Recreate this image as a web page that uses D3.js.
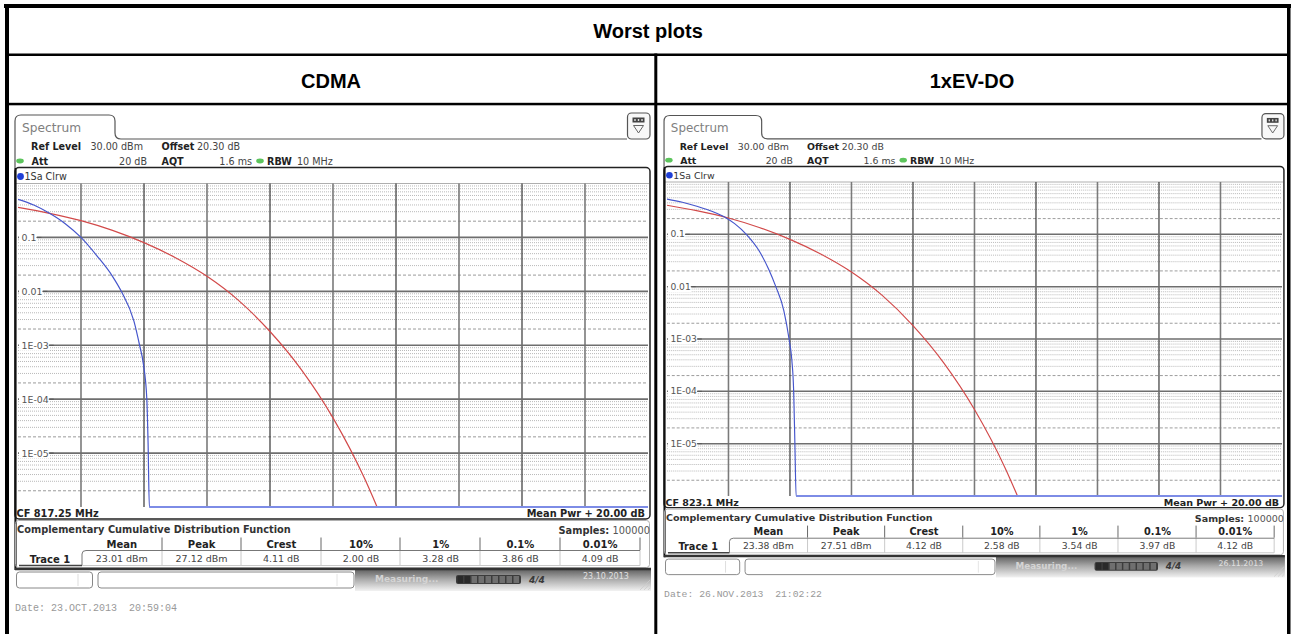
<!DOCTYPE html>
<html><head><meta charset="utf-8">
<script src="https://cdn.jsdelivr.net/npm/d3@7"></script>
<style>html,body{margin:0;padding:0;background:#fff;} svg{display:block;}</style>
</head><body>
<svg id="c" width="1293" height="634"></svg>
<script>
// ---------- data ----------
const mainTitle = "Worst plots";
const panelTitles = ["CDMA", "1xEV-DO"];
const centerFreqs = ["CF 817.25 MHz", "CF 823.1 MHz"];
const dateLines = ["Date: 23.OCT.2013  20:59:04", "Date: 26.NOV.2013  21:02:22"];
const statusDates = ["23.10.2013", "26.11.2013"];
const yTickValues = [0.1, 0.01, 1e-3, 1e-4, 1e-5];
const yTickLabels = ["0.1", "0.01", "1E-03", "1E-04", "1E-05"];
const xDomainDb = [0, 20];
const yDomainProb = [1e-6, 1];
const tableHeaders = ["Mean", "Peak", "Crest", "10%", "1%", "0.1%", "0.01%"];
const cdmaStats = ["23.01 dBm", "27.12 dBm", "4.11 dB", "2.00 dB", "3.28 dB", "3.86 dB", "4.09 dB"];
const evdoStats = ["23.38 dBm", "27.51 dBm", "4.12 dB", "2.58 dB", "3.54 dB", "3.97 dB", "4.12 dB"];
// reference (red) CCDF curve
const refDb   = [0, 1, 2, 3, 4, 5, 6, 7, 8, 9, 10, 11, 11.4];
const refProb = [0.36, 0.28, 0.205, 0.135, 0.08, 0.042, 0.019, 0.0068, 0.0018, 3.5e-4, 4.5e-5, 3.4e-6, 1e-6];
// Trace 1 (blue), CDMA
const cdmaDb   = [0, 0.5, 0.96, 1.5, 2.0, 2.5, 3.0, 3.28, 3.68, 3.86, 3.98, 4.09, 4.13, 4.17, 20];
const cdmaProb = [0.51, 0.40, 0.29, 0.18, 0.10, 0.046, 0.019, 0.01, 0.0028, 0.001, 4.5e-4, 1e-4, 1.5e-5, 1e-6, 1e-6];
// Trace 1 (blue), 1xEV-DO
const evdoDb   = [0, 0.5, 1.0, 1.5, 1.9, 2.2, 2.58, 3.0, 3.3, 3.54, 3.8, 3.97, 4.06, 4.12, 4.16, 4.2, 20];
const evdoProb = [0.47, 0.41, 0.34, 0.27, 0.21, 0.16, 0.10, 0.048, 0.022, 0.01, 0.0035, 0.001, 4e-4, 1e-4, 1e-5, 1e-6, 1e-6];

// ---------- drawing ----------
const svg = d3.select("#c");
svg.append("rect").attr("width", 1293).attr("height", 634).attr("fill", "#fff");

const SANS = "'DejaVu Sans', Verdana, sans-serif";
const ARIAL = "'Liberation Sans', Arial, sans-serif";
const MONO = "'Liberation Mono', 'DejaVu Sans Mono', monospace";

const defs = svg.append("defs");
const grad = defs.append("linearGradient").attr("id", "sbar").attr("x1", 0).attr("y1", 0).attr("x2", 0).attr("y2", 1);
grad.append("stop").attr("offset", "0%").attr("stop-color", "#5e5e5e");
grad.append("stop").attr("offset", "45%").attr("stop-color", "#a8a8a8");
grad.append("stop").attr("offset", "100%").attr("stop-color", "#f2f2f2");

function drawPanel(root, p) {
  const g = root.append("g").attr("transform", p.transform);
  const x = d3.scaleLinear().domain(xDomainDb).range([18, 648]);
  const y = d3.scaleLog().domain(yDomainProb).range([507, 183.5]);

  // tab + header
  g.append("path")
    .attr("d", "M15,168 L15,121 Q15,115 21,115 L109,115 Q115,115 115,121 L115,133 Q115,139 121,139 L627,139")
    .attr("fill", "none").attr("stroke", "#555").attr("stroke-width", 1.2);
  g.append("text").attr("x", 22).attr("y", 128).attr("dominant-baseline", "central")
    .attr("font-family", SANS).attr("font-size", 12.2).attr("fill", "#808080").text("Spectrum");
  // icon
  g.append("rect").attr("x", 627.5).attr("y", 113).attr("width", 22.5).attr("height", 26).attr("rx", 4)
    .attr("fill", "#f8f8f8").attr("stroke", "#555").attr("stroke-width", 1.2);
  g.append("rect").attr("x", 632.5).attr("y", 117.5).attr("width", 12).attr("height", 5).attr("fill", "#444");
  [635, 638.5, 642].forEach(cx => g.append("rect").attr("x", cx - 0.7).attr("y", 119).attr("width", 1.4).attr("height", 2).attr("fill", "#ddd"));
  g.append("path").attr("d", "M633.5,125.5 L643.5,125.5 L638.5,133 Z").attr("fill", "none").attr("stroke", "#666").attr("stroke-width", 1);

  const hdr = (txt, xx, yy, bold, anchor) => g.append("text").attr("x", xx).attr("y", yy)
    .attr("dominant-baseline", "central").attr("text-anchor", anchor || "start")
    .attr("font-family", SANS).attr("font-size", 9.6).attr("font-weight", bold ? "bold" : "normal")
    .attr("fill", bold ? "#222" : "#444").text(txt);
  hdr("Ref Level", 31, 146.5, true);
  hdr("30.00 dBm", 90.5, 146.5, false);
  hdr("Offset", 161.5, 146.5, true);
  hdr("20.30 dB", 197, 146.5, false);
  g.append("ellipse").attr("cx", 20).attr("cy", 161).attr("rx", 3.8).attr("ry", 2.4).attr("fill", "#5cc45c");
  hdr("Att", 31.5, 161, true);
  hdr("20 dB", 147, 161, false, "end");
  hdr("AQT", 161.5, 161, true);
  hdr("1.6 ms", 252, 161, false, "end");
  g.append("ellipse").attr("cx", 260).attr("cy", 161).attr("rx", 3.8).attr("ry", 2.4).attr("fill", "#5cc45c");
  hdr("RBW", 267, 161, true);
  hdr("10 MHz", 297, 161, false);

  // plot frame
  g.append("rect").attr("x", 15).attr("y", 167.5).attr("width", 635).attr("height", 351.5).attr("rx", 4)
    .attr("fill", "#fff").attr("stroke", "#222").attr("stroke-width", 1.5);
  g.append("circle").attr("cx", 20.5).attr("cy", 176.5).attr("r", 3.4).attr("fill", "#1f3fd6");
  g.append("text").attr("x", 24.5).attr("y", 176.5).attr("dominant-baseline", "central")
    .attr("font-family", SANS).attr("font-size", 9.6).attr("fill", "#333").text("1Sa Clrw");
  g.append("line").attr("x1", 16).attr("x2", 649).attr("y1", 183.5).attr("y2", 183.5).attr("stroke", "#999").attr("stroke-width", 0.8);

  // grid
  const grid = g.append("g");
  for (let k = -6; k < 0; k++) {
    for (let m = 2; m <= 9; m++) {
      const v = m * Math.pow(10, k);
      grid.append("line").attr("x1", x(0)).attr("x2", x(20)).attr("y1", y(v)).attr("y2", y(v))
        .attr("stroke", m === 2 ? "#9a9a9a" : "#b9b9b9").attr("stroke-width", 1)
        .attr("stroke-dasharray", m === 2 ? "3,2" : "1,1");
    }
  }
  const vTicks = d3.range(1, 10).map(i => i * 2);
  vTicks.forEach((d, i) => {
    grid.append("line").attr("x1", x(d)).attr("x2", x(d)).attr("y1", y(1)).attr("y2", y(1e-6))
      .attr("stroke", i % 2 === 0 ? "#7a7a7a" : "#222").attr("stroke-width", i % 2 === 0 ? 1.6 : 1.1);
  });
  yTickValues.forEach(v => {
    grid.append("line").attr("x1", x(0)).attr("x2", x(20)).attr("y1", y(v)).attr("y2", y(v))
      .attr("stroke", "#6e6e6e").attr("stroke-width", 1.6);
  });
  yTickValues.forEach((v, i) => {
    const t = grid.append("text").attr("x", 21.5).attr("y", y(v)).attr("dominant-baseline", "central")
      .attr("font-family", SANS).attr("font-size", 9.4).attr("fill", "#555").text(yTickLabels[i]);
    const w = t.node().getComputedTextLength();
    grid.insert("rect", "text").attr("x", 19).attr("y", y(v) - 5.5).attr("width", w + 3).attr("height", 11).attr("fill", "#fff");
    grid.append("line").attr("x1", 21.5 + w).attr("x2", 21.5 + w + 5).attr("y1", y(v)).attr("y2", y(v)).attr("stroke", "#555").attr("stroke-width", 1);
  });

  // traces
  defs.append("clipPath").attr("id", p.clipId).append("rect")
    .attr("x", x(0)).attr("y", y(1)).attr("width", x(20) - x(0)).attr("height", y(1e-6) - y(1) + 1.5);
  const line = d3.line().x(d => x(d[0])).y(d => y(d[1])).curve(d3.curveMonotoneX);
  const traces = g.append("g").attr("clip-path", `url(#${p.clipId})`);
  traces.append("path").datum(d3.zip(refDb, refProb)).attr("d", line)
    .attr("fill", "none").attr("stroke", "#d24a4a").attr("stroke-width", 1.2);
  traces.append("path").datum(d3.zip(p.db, p.prob)).attr("d", line)
    .attr("fill", "none").attr("stroke", "#4656cc").attr("stroke-width", 1.2);
  const dropIdx = p.prob.indexOf(1e-6);
  traces.append("line").attr("x1", x(p.db[dropIdx])).attr("x2", x(20)).attr("y1", y(1e-6)).attr("y2", y(1e-6))
    .attr("stroke", "#7d8ce6").attr("stroke-width", 2);

  // CF row
  g.append("text").attr("x", 16.5).attr("y", 513.5).attr("dominant-baseline", "central")
    .attr("font-family", SANS).attr("font-size", 9.8).attr("font-weight", "bold").attr("fill", "#222").text(p.cf);
  g.append("text").attr("x", 645).attr("y", 513.5).attr("dominant-baseline", "central").attr("text-anchor", "end")
    .attr("font-family", SANS).attr("font-size", 9.8).attr("font-weight", "bold").attr("fill", "#222").text("Mean Pwr + 20.00 dB");
  // left dark edge
  g.append("line").attr("x1", 15.5).attr("x2", 15.5).attr("y1", 168).attr("y2", 570).attr("stroke", "#111").attr("stroke-width", 2.2);

  // CCDF table
  g.append("rect").attr("x", 15.5).attr("y", 520.5).attr("width", 634).attr("height", 47).attr("rx", 3)
    .attr("fill", "none").attr("stroke", "#b0b0b0").attr("stroke-width", 1);
  g.append("text").attr("x", 17).attr("y", 529.5).attr("dominant-baseline", "central")
    .attr("font-family", SANS).attr("font-size", 9.8).attr("font-weight", "bold").attr("fill", "#333")
    .text("Complementary Cumulative Distribution Function");
  const smp = g.append("text").attr("x", 650).attr("y", 529.5).attr("dominant-baseline", "central").attr("text-anchor", "end")
    .attr("font-family", SANS).attr("font-size", 9.8).attr("fill", "#333");
  smp.append("tspan").attr("font-weight", "bold").text("Samples: ");
  smp.append("tspan").attr("fill", "#555").text("100000");

  const colEdges = [82, 162, 241, 321, 400, 480, 560, 640];
  const colX = d3.scaleBand().domain(tableHeaders).range([colEdges[0], colEdges[colEdges.length - 1]]);
  tableHeaders.forEach((h, i) => {
    g.append("text").attr("x", colX(h) + colX.bandwidth() / 2).attr("y", 544).attr("dominant-baseline", "central")
      .attr("text-anchor", "middle").attr("font-family", SANS).attr("font-size", 10).attr("font-weight", "bold")
      .attr("fill", "#222").text(h);
    g.append("text").attr("x", colX(h) + colX.bandwidth() / 2).attr("y", 558.5).attr("dominant-baseline", "central")
      .attr("text-anchor", "middle").attr("font-family", SANS).attr("font-size", 9.5)
      .attr("fill", "#444").text(p.stats[i]);
  });
  colEdges.slice(1).forEach(ex => {
    g.append("line").attr("x1", ex).attr("x2", ex).attr("y1", 537.5).attr("y2", 550).attr("stroke", "#666").attr("stroke-width", 1);
    g.append("line").attr("x1", ex).attr("x2", ex).attr("y1", 550).attr("y2", 565.5).attr("stroke", "#c8c8c8").attr("stroke-width", 1);
  });
  g.append("path").attr("d", "M82,565.5 L82,554 Q82,550.5 86,550.5 L640,550.5").attr("fill", "none").attr("stroke", "#777").attr("stroke-width", 1);
  g.append("line").attr("x1", 82).attr("x2", 640).attr("y1", 565.5).attr("y2", 565.5).attr("stroke", "#c8c8c8");
  g.append("line").attr("x1", 19).attr("x2", 82).attr("y1", 565.5).attr("y2", 565.5).attr("stroke", "#444").attr("stroke-width", 1.6);
  g.append("text").attr("x", 50).attr("y", 559).attr("dominant-baseline", "central").attr("text-anchor", "middle")
    .attr("font-family", SANS).attr("font-size", 10).attr("font-weight", "bold").attr("fill", "#222").text("Trace 1");

  // status bar
  g.append("rect").attr("x", 355).attr("y", 569).attr("width", 296).attr("height", 22).attr("fill", "url(#sbar)");
  g.append("line").attr("x1", 15).attr("x2", 651).attr("y1", 569).attr("y2", 569).attr("stroke", "#333").attr("stroke-width", 2.4);
  g.append("rect").attr("x", 16.5).attr("y", 572).attr("width", 76).attr("height", 16).attr("rx", 3)
    .attr("fill", "#fff").attr("stroke", "#888").attr("stroke-width", 1);
  g.append("line").attr("x1", 78).attr("x2", 78).attr("y1", 574).attr("y2", 586).attr("stroke", "#ddd");
  g.append("rect").attr("x", 98).attr("y", 572).attr("width", 256).attr("height", 16).attr("rx", 3)
    .attr("fill", "#fff").attr("stroke", "#888").attr("stroke-width", 1);
  g.append("line").attr("x1", 337).attr("x2", 337).attr("y1", 574).attr("y2", 586).attr("stroke", "#e4e4e4");
  g.append("text").attr("x", 375).attr("y", 579).attr("dominant-baseline", "central")
    .attr("font-family", SANS).attr("font-size", 9).attr("font-weight", "bold").attr("fill", "#d4d4d4").text("Measuring...");
  g.append("rect").attr("x", 456).attr("y", 575).attr("width", 65).attr("height", 9).attr("rx", 2).attr("fill", "#3c3c3c");
  d3.range(9).forEach(i => {
    g.append("rect").attr("x", 457.5 + i * 7).attr("y", 576).attr("width", 5.5).attr("height", 7)
      .attr("fill", i < 2 ? "#2a2a2a" : "#6f6f6f");
  });
  g.append("text").attr("x", 529).attr("y", 579.5).attr("dominant-baseline", "central")
    .attr("font-family", SANS).attr("font-size", 9).attr("font-weight", "bold").attr("font-style", "italic")
    .attr("fill", "#3a3a3a").text("4/4");
  g.append("text").attr("x", 583).attr("y", 576.5).attr("dominant-baseline", "central")
    .attr("font-family", SANS).attr("font-size", 8).attr("fill", "#e0e0e0").text(p.statusDate);
  [0, 4, 8].forEach(o => g.append("line").attr("x1", 640 + o).attr("y1", 590).attr("x2", 650).attr("y2", 580 + o)
    .attr("stroke", "#ccc").attr("stroke-width", 0.8));

  // date
  g.append("text").attr("x", 15).attr("y", 608).attr("dominant-baseline", "central")
    .attr("font-family", MONO).attr("font-size", 10).attr("fill", "#999").style("white-space", "pre").text(p.date);
}

drawPanel(svg, { transform: "translate(0,0)", cf: centerFreqs[0], date: dateLines[0], statusDate: statusDates[0],
  stats: cdmaStats, db: cdmaDb, prob: cdmaProb, clipId: "clipL" });
drawPanel(svg, { transform: "translate(649.4,3.9) scale(0.9762,0.9706)", cf: centerFreqs[1], date: dateLines[1], statusDate: statusDates[1],
  stats: evdoStats, db: evdoDb, prob: evdoProb, clipId: "clipR" });

// outer table
const frame = svg.append("g").attr("fill", "#000");
frame.append("rect").attr("x", 4).attr("y", 4).attr("width", 1287).attr("height", 4);
frame.append("rect").attr("x", 5).attr("y", 4).attr("width", 4).attr("height", 630);
frame.append("rect").attr("x", 1287).attr("y", 4).attr("width", 3.5).attr("height", 630);
frame.append("rect").attr("x", 5).attr("y", 53.5).attr("width", 1285).attr("height", 2.5);
frame.append("rect").attr("x", 5).attr("y", 102.8).attr("width", 1285).attr("height", 2.5);
frame.append("rect").attr("x", 654.3).attr("y", 53.5).attr("width", 3).attr("height", 581);

svg.append("text").attr("x", 648).attr("y", 37.5).attr("text-anchor", "middle")
  .attr("font-family", ARIAL).attr("font-size", 20).attr("font-weight", "bold").attr("fill", "#000").text(mainTitle);
[331, 972].forEach((cx, i) => svg.append("text").attr("x", cx).attr("y", 87.5).attr("text-anchor", "middle")
  .attr("font-family", ARIAL).attr("font-size", 20).attr("font-weight", "bold").attr("fill", "#000").text(panelTitles[i]));
</script>
</body></html>
